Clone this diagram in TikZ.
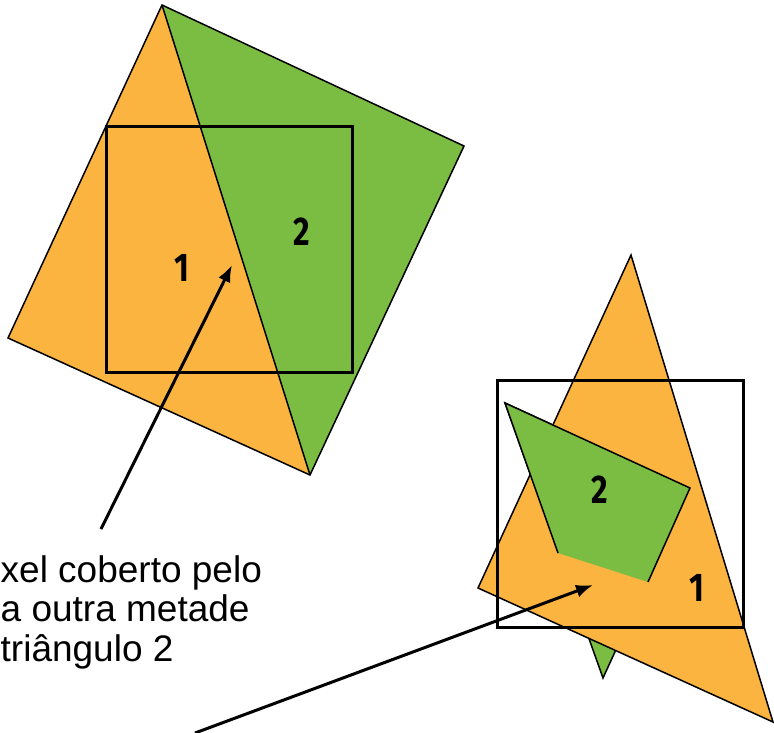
\documentclass[tikz,border=0pt]{standalone}
\usepackage{fontspec}
\setmainfont{Liberation Sans}
\newfontfamily\labelfont{Fira Sans}
\usetikzlibrary{arrows.meta}
\definecolor{triorange}{RGB}{252,180,64}
\definecolor{trigreen}{RGB}{122,189,66}
\tikzset{
  tri/.style={draw=black,line width=1.5pt,line join=miter},
  pixbox/.style={draw=black,line width=3pt},
  num/.style={font=\labelfont\bfseries\fontsize{40}{40}\selectfont,xscale=0.8,inner sep=0pt},
  caption/.style={font=\fontsize{37}{39}\selectfont,inner sep=0pt,anchor=base west},
  pointer/.style={line width=3pt,-{Latex[length=17pt,width=13pt]}}
}
\begin{document}
\begin{tikzpicture}[x=1pt,y=-1pt]
\useasboundingbox (0,0) rectangle (774,732);
\clip (0,0) rectangle (774,732);
% top figure
\coordinate (t1) at (162,5);
\coordinate (t2) at (8,338);
\coordinate (t3) at (310,475);
\coordinate (t4) at (464,146);
\fill[triorange] (t1) -- (t2) -- (t3) -- cycle;
\fill[trigreen] (t1) -- (t4) -- (t3) -- cycle;
\draw[tri] (t1) -- (t2) -- (t3) -- (t4) -- cycle;
\draw[tri] (t1) -- (t3);
\draw[pixbox] (106,126) rectangle (352,372);
\node[num] (n1a) at (182,268) {1};
\node[num] (n2a) at (302,232) {2};
% bottom figure
\coordinate (g1) at (505,403);
\coordinate (g2) at (690,488);
\coordinate (g3) at (603,678);
\coordinate (g4) at (648,582);
\coordinate (g5) at (558,553);
\coordinate (o1) at (631,255);
\coordinate (o2) at (478,588);
\coordinate (o3) at (773,722);
\filldraw[tri,fill=trigreen] (g1) -- (g2) -- (g3) -- cycle;
\filldraw[tri,fill=triorange] (o1) -- (o2) -- (o3) -- cycle;
\fill[trigreen] (g1) -- (g2) -- (g4) -- (g5) -- cycle;
\draw[tri] (g5) -- (g1) -- (g2) -- (g4);
\draw[pixbox] (497,380) rectangle (743,627);
\node[num] (n2b) at (600,490) {2};
\node[num] (n1b) at (697,588) {1};
% caption
\node[caption] (c1) at (0.5,582) {xel coberto pelo};
\node[caption] (c2) at (0.5,621) {a outra metade};
\node[caption] (c3) at (0.5,661) {triângulo 2};
% arrows
\coordinate (a1s) at (101,529);
\coordinate (a1e) at (232,265);
\coordinate (a2s) at (195,733);
\coordinate (a2e) at (593,585);
\draw[pointer] (a1s) -- (a1e);
\draw[pointer] (a2s) -- (a2e);
\end{tikzpicture}
\end{document}
